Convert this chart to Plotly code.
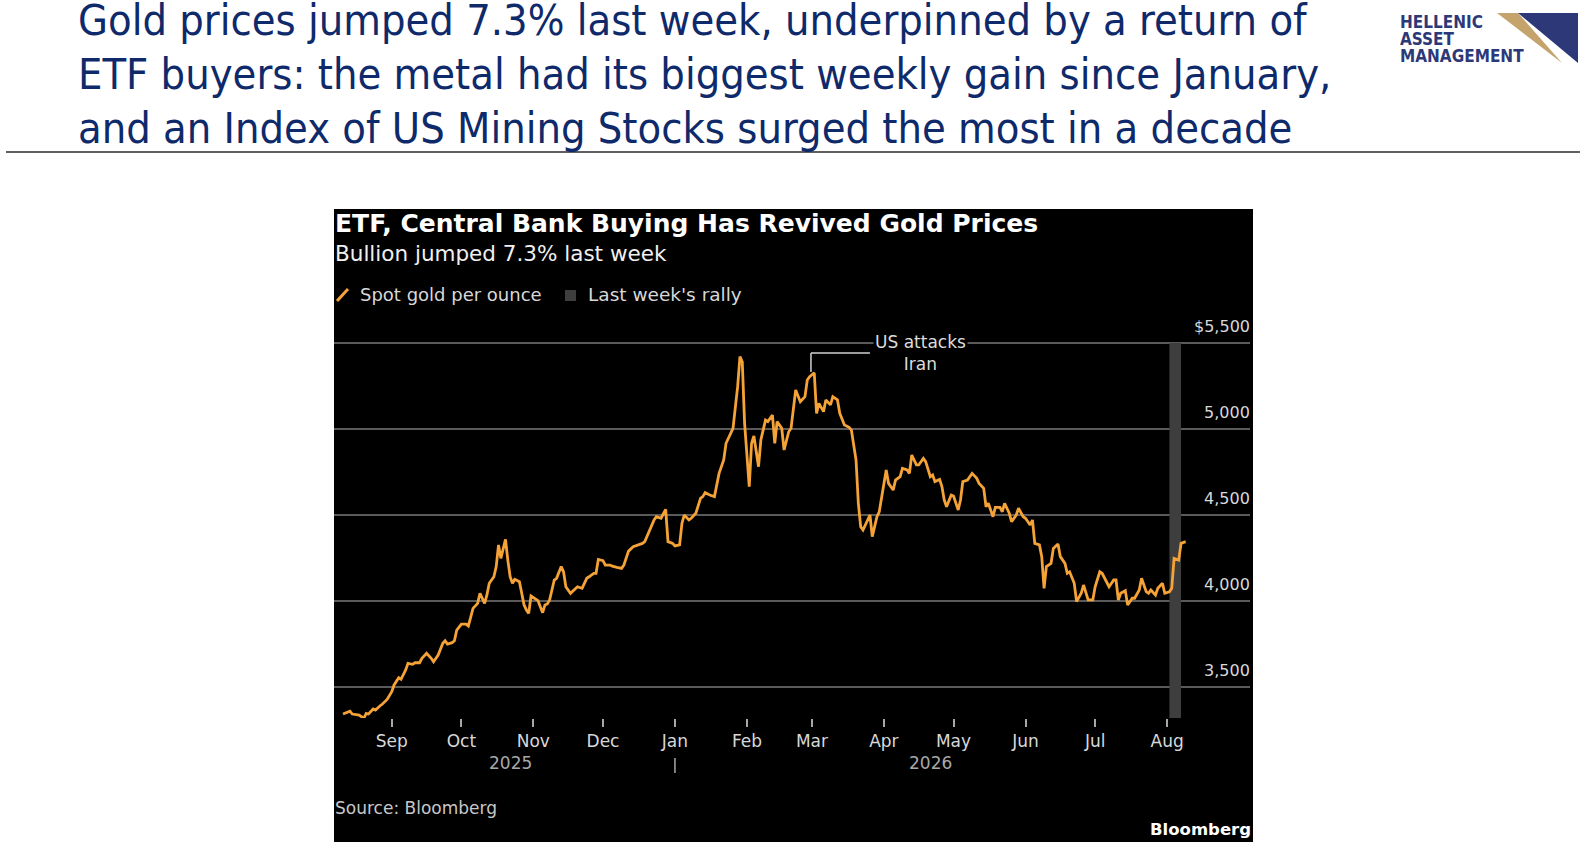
import plotly.graph_objects as go

# spot gold (USD per ounce)
dates = [
    "2025-08-11", "2025-08-14", "2025-08-15", "2025-08-18", "2025-08-19", "2025-08-20", "2025-08-21",
    "2025-08-22", "2025-08-24", "2025-08-25", "2025-08-27", "2025-08-28", "2025-08-30",
    "2025-09-01", "2025-09-02", "2025-09-04", "2025-09-05", "2025-09-07", "2025-09-08", "2025-09-10",
    "2025-09-11", "2025-09-13", "2025-09-14", "2025-09-16", "2025-09-18", "2025-09-19", "2025-09-21",
    "2025-09-23", "2025-09-24", "2025-09-25", "2025-09-27", "2025-09-28", "2025-09-29",
    "2025-10-01", "2025-10-03", "2025-10-04", "2025-10-05", "2025-10-06", "2025-10-08", "2025-10-09",
    "2025-10-11", "2025-10-12", "2025-10-13", "2025-10-15", "2025-10-16", "2025-10-17", "2025-10-18",
    "2025-10-20", "2025-10-21", "2025-10-22", "2025-10-23", "2025-10-24", "2025-10-26", "2025-10-27",
    "2025-10-28", "2025-10-29", "2025-10-30", "2025-10-31",
    "2025-11-02", "2025-11-03", "2025-11-04", "2025-11-05", "2025-11-06", "2025-11-07", "2025-11-08",
    "2025-11-10", "2025-11-11", "2025-11-13", "2025-11-14", "2025-11-15", "2025-11-17", "2025-11-19",
    "2025-11-20", "2025-11-22", "2025-11-24", "2025-11-25", "2025-11-27", "2025-11-28", "2025-11-29",
    "2025-12-01", "2025-12-02", "2025-12-04", "2025-12-05", "2025-12-07", "2025-12-09", "2025-12-10",
    "2025-12-11", "2025-12-12", "2025-12-14", "2025-12-15", "2025-12-18", "2025-12-19", "2025-12-21",
    "2025-12-23", "2025-12-24", "2025-12-26", "2025-12-28", "2025-12-29", "2025-12-31",
    "2026-01-01", "2026-01-03", "2026-01-04", "2026-01-05", "2026-01-07", "2026-01-08", "2026-01-10",
    "2026-01-12", "2026-01-13", "2026-01-14", "2026-01-16", "2026-01-18", "2026-01-19", "2026-01-20",
    "2026-01-22", "2026-01-23", "2026-01-25", "2026-01-26", "2026-01-28", "2026-01-29", "2026-01-30",
    "2026-01-31",
    "2026-02-02", "2026-02-03", "2026-02-04", "2026-02-06", "2026-02-07", "2026-02-09", "2026-02-10",
    "2026-02-12", "2026-02-13", "2026-02-14", "2026-02-16", "2026-02-17", "2026-02-19", "2026-02-20",
    "2026-02-22", "2026-02-24", "2026-02-26", "2026-02-27", "2026-02-28",
    "2026-03-02", "2026-03-03", "2026-03-04", "2026-03-06", "2026-03-07", "2026-03-09", "2026-03-10",
    "2026-03-12", "2026-03-13", "2026-03-15", "2026-03-17", "2026-03-18", "2026-03-20", "2026-03-21",
    "2026-03-22", "2026-03-23", "2026-03-25", "2026-03-26", "2026-03-27", "2026-03-29", "2026-03-30",
    "2026-04-01", "2026-04-02", "2026-04-03", "2026-04-05", "2026-04-06", "2026-04-08", "2026-04-09",
    "2026-04-11", "2026-04-12", "2026-04-13", "2026-04-15", "2026-04-16", "2026-04-18", "2026-04-19",
    "2026-04-21", "2026-04-22", "2026-04-23", "2026-04-25", "2026-04-26", "2026-04-27", "2026-04-28",
    "2026-04-30",
    "2026-05-01", "2026-05-03", "2026-05-04", "2026-05-05", "2026-05-07", "2026-05-09", "2026-05-11",
    "2026-05-12", "2026-05-14", "2026-05-15", "2026-05-16", "2026-05-18", "2026-05-19", "2026-05-21",
    "2026-05-22", "2026-05-23", "2026-05-25", "2026-05-26", "2026-05-28", "2026-05-29", "2026-05-31",
    "2026-06-01", "2026-06-03", "2026-06-04", "2026-06-05", "2026-06-07", "2026-06-08", "2026-06-09",
    "2026-06-10", "2026-06-12", "2026-06-13", "2026-06-15", "2026-06-16", "2026-06-18", "2026-06-19",
    "2026-06-20", "2026-06-22", "2026-06-23", "2026-06-25", "2026-06-26", "2026-06-28", "2026-06-30",
    "2026-07-01", "2026-07-03", "2026-07-04", "2026-07-06", "2026-07-07", "2026-07-09", "2026-07-10",
    "2026-07-11", "2026-07-12", "2026-07-14", "2026-07-15", "2026-07-17", "2026-07-18", "2026-07-20",
    "2026-07-21", "2026-07-23", "2026-07-24", "2026-07-25", "2026-07-27", "2026-07-28", "2026-07-30",
    "2026-07-31",
    "2026-08-02", "2026-08-03", "2026-08-04", "2026-08-06", "2026-08-07", "2026-08-09",
]

gold = [
    3343, 3360, 3343, 3337, 3327, 3318, 3347,
    3343, 3372, 3366, 3391, 3401, 3428,
    3473, 3512, 3554, 3545, 3599, 3638, 3632,
    3641, 3641, 3667, 3696, 3667, 3647, 3686,
    3754, 3769, 3750, 3758, 3769, 3831,
    3866, 3866, 3855, 3905, 3957, 3986, 4045,
    3986, 4035, 4103, 4141, 4200, 4326, 4248,
    4358, 4238, 4141, 4103, 4126, 4112, 4045,
    3977, 3948, 3928, 4029,
    4010, 4002, 3967, 3932, 3977, 3983, 4006,
    4122, 4132, 4200, 4171, 4083, 4045, 4074,
    4083, 4074, 4132, 4141, 4161, 4161, 4242,
    4235, 4209, 4209, 4203, 4196, 4190, 4209,
    4248, 4290, 4316, 4320, 4335, 4345, 4413,
    4471, 4490, 4481, 4533, 4345, 4335,
    4320, 4326, 4451, 4500, 4471, 4481, 4510,
    4597, 4607, 4630, 4616, 4607, 4665, 4742,
    4820, 4917, 4975, 5004, 5246, 5421, 5391,
    5033,
    4665, 4917, 4959, 4781, 4936, 5052, 5043,
    5081, 4917, 5043, 5004, 4878, 4984, 5004,
    5227, 5159, 5188, 5285, 5304,
    5327, 5091, 5149, 5101, 5169, 5140, 5188,
    5169, 5091, 5023, 5010, 4994, 4820, 4568,
    4432, 4413, 4471, 4500, 4374, 4490, 4519,
    4674, 4762, 4684, 4645, 4703, 4723, 4771,
    4762, 4742, 4849, 4791, 4791, 4829, 4810,
    4723, 4733, 4694, 4707, 4665, 4587, 4548,
    4616,
    4610, 4529, 4587, 4694, 4703, 4742, 4713,
    4684, 4655, 4548, 4568, 4490, 4544, 4544,
    4519, 4568, 4510, 4461, 4500, 4539, 4490,
    4481, 4442, 4471, 4335, 4326, 4258, 4074,
    4200, 4219, 4306, 4331, 4258, 4219, 4161,
    4170, 4103, 3996, 4045, 4093, 4006, 4006,
    4083, 4170, 4161, 4112, 4083, 4122, 4122,
    4006, 4045, 4060, 3977, 4016, 4016, 4064,
    4132, 4054, 4045, 4064, 4035, 4074, 4103,
    4045,
    4054, 4074, 4248, 4238, 4335, 4345,
]

month_ticks = ["2025-09-01", "2025-10-01", "2025-11-01", "2025-12-01", "2026-01-01", "2026-02-01",
               "2026-03-01", "2026-04-01", "2026-05-01", "2026-06-01", "2026-07-01", "2026-08-01"]
month_labels = ["Sep", "Oct", "Nov", "Dec", "Jan", "Feb", "Mar", "Apr", "May", "Jun", "Jul", "Aug"]
price_ticks = [3500, 4000, 4500, 5000, 5500]
price_labels = ["3,500", "4,000", "4,500", "5,000", "$5,500"]
years = ["2025", "2026"]
year_pos = ["2025-10-22", "2026-04-21"]
rally_start, rally_end = "2026-08-02", "2026-08-07"
event_date = "2026-02-28 14:00"

W, H = 1588, 864
NAVY = "#0f2a6b"
ORANGE = "#f5a236"
FONT = "DejaVu Sans"


def px(x):
    return x / W


def py(y):
    return 1 - y / H


fig = go.Figure()
fig.add_trace(go.Scatter(x=dates, y=gold, mode="lines", name="Spot gold per ounce",
                         line=dict(color=ORANGE, width=2.8), hoverinfo="x+y"))

shapes = [
    # black chart card
    dict(type="rect", xref="paper", yref="paper", x0=px(334), x1=px(1253), y0=py(842), y1=py(209),
         fillcolor="black", line_width=0, layer="below"),
    # rule under headline
    dict(type="line", xref="paper", yref="paper", x0=px(6), x1=px(1580), y0=py(152), y1=py(152),
         line=dict(color="#2b2b2b", width=1.5)),
    # last week's rally band
    dict(type="rect", xref="x", yref="y", x0=rally_start, x1=rally_end, y0=3319.8, y1=5500,
         fillcolor="#3e3e3e", line_width=0, layer="between"),
    # leader for the annotation
    dict(type="line", xref="x", yref="y", x0=event_date, x1=event_date, y0=5331, y1=5442,
         line=dict(color="#d0d0d0", width=1.5)),
    dict(type="line", xref="x", yref="y", x0=event_date, x1="2026-03-26", y0=5442, y1=5442,
         line=dict(color="#d0d0d0", width=1.5)),
    # year divider
    dict(type="line", xref="x", yref="paper", x0="2026-01-01", x1="2026-01-01", y0=py(773), y1=py(758),
         line=dict(color="#a8a8a8", width=1.5)),
    # legend icons
    dict(type="line", xref="paper", yref="paper", x0=px(337), x1=px(348), y0=py(301), y1=py(289),
         line=dict(color=ORANGE, width=3)),
    dict(type="rect", xref="paper", yref="paper", x0=px(565), x1=px(576), y0=py(301), y1=py(290),
         fillcolor="#3e3e3e", line_width=0),
    # logo
    dict(type="path", xref="paper", yref="paper",
         path=f"M {px(1497)},{py(13)} L {px(1518)},{py(13)} L {px(1562)},{py(63)} Z",
         fillcolor="#c4a46c", line_width=0),
    dict(type="path", xref="paper", yref="paper",
         path=f"M {px(1518)},{py(13)} L {px(1578)},{py(13)} L {px(1578)},{py(63)} Z",
         fillcolor="#2c3878", line_width=0),
]

ann = []
headline = ["Gold prices jumped 7.3% last week, underpinned by a return of",
            "ETF buyers: the metal had its biggest weekly gain since January,",
            "and an Index of US Mining Stocks surged the most in a decade"]
for i, line in enumerate(headline):
    ann.append(dict(text=line, xref="paper", yref="paper", x=px(76), y=py(20 + 54 * i),
                    xanchor="left", yanchor="middle", showarrow=False,
                    font=dict(family="DejaVu Sans Condensed", size=43, color=NAVY)))

for i, word in enumerate(["HELLENIC", "ASSET", "MANAGEMENT"]):
    ann.append(dict(text=word, xref="paper", yref="paper", x=px(1398), y=py(22 + 17 * i),
                    xanchor="left", yanchor="middle", showarrow=False,
                    font=dict(family="DejaVu Sans Condensed", size=17, color="#2c3878", weight="bold")))

ann += [
    dict(text="ETF, Central Bank Buying Has Revived Gold Prices", xref="paper", yref="paper",
         x=px(333), y=py(223), xanchor="left", yanchor="middle", showarrow=False,
         font=dict(family=FONT, size=25, color="white", weight="bold")),
    dict(text="Bullion jumped 7.3% last week", xref="paper", yref="paper",
         x=px(333), y=py(253), xanchor="left", yanchor="middle", showarrow=False,
         font=dict(family=FONT, size=21.5, color="#f0f0f0")),
    dict(text="Spot gold per ounce", xref="paper", yref="paper",
         x=px(358), y=py(295), xanchor="left", yanchor="middle", showarrow=False,
         font=dict(family=FONT, size=18, color="#d8d8d8")),
    dict(text="Last week's rally", xref="paper", yref="paper",
         x=px(586), y=py(295), xanchor="left", yanchor="middle", showarrow=False,
         font=dict(family=FONT, size=18.5, color="#d8d8d8")),
    dict(text="US attacks<br>Iran", xref="x", yref="y", x="2026-04-16 14:00", y=5440,
         xanchor="center", yanchor="middle", showarrow=False, bgcolor="black",
         font=dict(family=FONT, size=17, color="#dcdcdc")),
    dict(text="Source: Bloomberg", xref="paper", yref="paper",
         x=px(333), y=py(808), xanchor="left", yanchor="middle", showarrow=False,
         font=dict(family=FONT, size=17, color="#c8c8c8")),
    dict(text="Bloomberg", xref="paper", yref="paper",
         x=px(1253), y=py(829), xanchor="right", yanchor="middle", showarrow=False,
         font=dict(family=FONT, size=16.5, color="white", weight="bold")),
]

# price labels sit above their gridlines on the right
for v, lab in zip(price_ticks, price_labels):
    ann.append(dict(text=lab, xref="x domain", yref="y", x=1, y=v, yshift=17, xshift=2,
                    xanchor="right", yanchor="middle", showarrow=False,
                    font=dict(family=FONT, size=16, color="#d8d8d8")))

for yr, pos in zip(years, year_pos):
    ann.append(dict(text=yr, xref="x", yref="paper", x=pos, y=py(763),
                    xanchor="center", yanchor="middle", showarrow=False,
                    font=dict(family=FONT, size=17, color="#a8a8a8")))

fig.update_layout(
    width=W, height=H,
    margin=dict(l=0, r=0, t=0, b=0),
    paper_bgcolor="white",
    plot_bgcolor="black",
    showlegend=False,
    shapes=shapes,
    annotations=ann,
    xaxis=dict(
        type="date",
        domain=[px(334), px(1250)],
        range=["2025-08-07 03:00", "2026-09-05 17:00"],
        tickvals=month_ticks, ticktext=month_labels,
        ticks="outside", ticklen=8, tickwidth=1.5, tickcolor="#a8a8a8",
        tickfont=dict(family=FONT, size=17, color="#d8d8d8"),
        showgrid=False, zeroline=False, showline=False,
    ),
    yaxis=dict(
        domain=[py(718), py(300)],
        range=[3319.8, 5750],
        tickvals=price_ticks, showticklabels=False,
        showgrid=True, gridcolor="#5a5a5a", gridwidth=1.5,
        zeroline=False, showline=False, ticks="",
    ),
)

# drop the browser's default body margin so the figure fills the window from the corner
fig.write_html("out.html", config={"displayModeBar": False},
               post_script="document.body.style.margin = '0';")
